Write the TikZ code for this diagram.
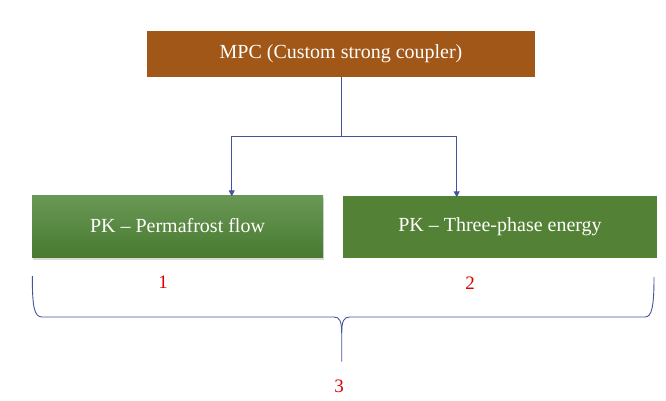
\documentclass[tikz,border=0pt]{standalone}
\usepackage{fontspec}
\setmainfont{Liberation Serif}
\usepackage{tikz}
\usetikzlibrary{arrows.meta,shadows,calc}
\definecolor{couplerbrown}{RGB}{160,87,24}
\definecolor{pkgreen}{RGB}{83,129,53}
\definecolor{pklight}{RGB}{106,152,86}
\definecolor{pkdark}{RGB}{72,122,48}
\definecolor{linkblue}{RGB}{68,84,156}
\definecolor{tagred}{RGB}{222,0,0}

\begin{document}
\begin{tikzpicture}[x=1pt,y=-1pt]
    % `coupler' is the brown box on top.
    % `pkbox' is used for the two green boxes, `link' for the connectors.
    % `tag' is used for the red numbers.
    \tikzstyle{coupler} = [fill=couplerbrown,text=white,inner sep=0pt,
                           minimum width=388pt,minimum height=46pt,
                           font=\fontsize{20}{24}\selectfont]
    \tikzstyle{pkbox} = [text=white,inner sep=0pt,minimum height=62pt,
                         font=\fontsize{20}{24}\selectfont]
    \tikzstyle{link} = [draw=linkblue,line width=1pt]
    \tikzstyle{tag} = [text=tagred,inner sep=0pt,font=\fontsize{19}{22}\selectfont]
    %
    \path[use as bounding box] (0,0) rectangle (666,401);
    %
    \node[coupler] (mpc) at (341,54) {MPC (Custom strong coupler)};
    \node[pkbox,minimum width=291pt,top color=pklight,bottom color=pkdark,
          drop shadow={shadow xshift=1pt,shadow yshift=-2.5pt,opacity=0.3}]
          (pkflow) at (177.5,226) {PK -- Permafrost flow};
    \node[pkbox,minimum width=314pt,fill=pkgreen]
          (pkenergy) at (500,227) {PK -- Three-phase energy};
    %
    \node[tag] (tag1) at (163,282) {1};
    \node[tag] (tag2) at (470,283) {2};
    \node[tag] (tag3) at (339,386) {3};
    %
    % Draw connectors.
    \coordinate (split) at (341.7,136.7);
    \draw[link] (mpc.south -| split) -- (split);
    \draw[link,-{Triangle[width=6pt,length=6pt]}]
        (split) -| ([xshift=54.2pt,yshift=-1.5pt]pkflow.north);
    \draw[link,-{Triangle[width=6pt,length=6pt]}]
        (split) -| ([xshift=-43.3pt,yshift=-1.5pt]pkenergy.north);
    %
    % Draw brace.
    \coordinate (braceL) at (32.3,276);
    \coordinate (braceR) at (654,277);
    \coordinate (braceTip) at (341.7,361.7);
    \draw[link,line width=0.9pt]
        (braceL) .. controls (32.3,306) and (34,317) .. (42,317)
        -- (334,317) .. controls (339.5,317) and (341.7,321) .. (341.7,333)
        -- (braceTip);
    \draw[link,line width=0.9pt]
        (braceR) .. controls (654,306) and (652,317) .. (645,317)
        -- (349.5,317) .. controls (344,317) and (341.7,321) .. (341.7,333);
\end{tikzpicture}
\end{document}
